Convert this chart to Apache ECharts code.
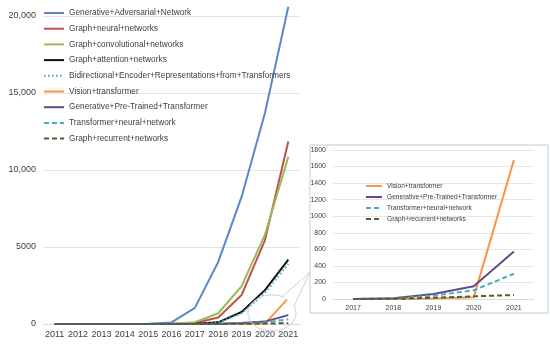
<!DOCTYPE html>
<html><head><meta charset="utf-8">
<script src="https://cdn.jsdelivr.net/npm/echarts@6/dist/echarts.min.js"></script>
<style>html,body{margin:0;padding:0;background:#fff}#c{width:550px;height:347px}</style>
</head><body><div id="c"></div>
<script>
const years = ['2011','2012','2013','2014','2015','2016','2017','2018','2019','2020','2021'];
const insetYears = ['2017','2018','2019','2020','2021'];
const mainYLabels = {0:'0',5000:'5000',10000:'10,000',15000:'15,000',20000:'20,000'};

const gan  = [0, 0, 0, 5, 20, 100, 1050, 4030, 8250, 13700, 20600];
const gnn  = [0, 0, 0, 0, 5, 15, 60, 420, 1880, 5450, 11850];
const gcn  = [0, 0, 0, 0, 5, 15, 110, 700, 2450, 5800, 10850];
const gat  = [0, 0, 0, 0, 0, 5, 15, 110, 780, 2200, 4180];
const bert = [0, 0, 0, 0, 0, 0, 5, 80, 700, 2000, 3900];
const vit  = [0, 0, 0, 0, 0, 0, 0, 0, 5, 20, 1680];
const gpt  = [0, 0, 0, 0, 0, 0, 0, 10, 60, 155, 575];
const tnn  = [0, 0, 0, 0, 0, 0, 0, 5, 40, 105, 305];
const grn  = [0, 0, 0, 0, 0, 0, 0, 2, 15, 32, 48];

const defs = [
  {name:'Generative+Adversarial+Network', data:gan, color:'#5b87c9', type:'solid', w:2},
  {name:'Graph+neural+networks', data:gnn, color:'#c0504d', type:'solid', w:2},
  {name:'Graph+convolutional+networks', data:gcn, color:'#9bbb59', type:'solid', w:2},
  {name:'Graph+attention+networks', data:gat, color:'#111111', type:'solid', w:2},
  {name:'Bidirectional+Encoder+Representations+from+Transformers', data:bert, color:'#4bacc6', type:[1.5,2.5], w:2},
  {name:'Vision+transformer', data:vit, color:'#f79646', type:'solid', w:2},
  {name:'Generative+Pre-Trained+Transformer', data:gpt, color:'#5f4b8b', type:'solid', w:2},
  {name:'Transformer+neural+network', data:tnn, color:'#4bacc6', type:[5,3], w:2},
  {name:'Graph+recurrent+networks', data:grn, color:'#4f6228', type:[5,3], w:2}
];
const insetNames = ['Vision+transformer','Generative+Pre-Trained+Transformer','Transformer+neural+network','Graph+recurrent+networks'];

const series = [];
defs.forEach(d => series.push({
  name:d.name, type:'line', xAxisIndex:0, yAxisIndex:0, data:d.data, symbol:'none', clip:false,
  lineStyle:{color:d.color, width:d.w, type:d.type}, itemStyle:{color:d.color}, z:2
}));
defs.filter(d => insetNames.includes(d.name)).forEach(d => series.push({
  name:d.name, type:'line', xAxisIndex:1, yAxisIndex:1, data:d.data.slice(6), symbol:'none',
  lineStyle:{color:d.color, width:d.w, type:d.type}, itemStyle:{color:d.color}, z:12
}));

const chart = echarts.init(document.getElementById('c'), null, {renderer:'canvas'});
chart.setOption({
  animation:false,
  backgroundColor:'#fff',
  textStyle:{fontFamily:'Liberation Sans'},
  grid:[
    {left:43, top:16, width:257, height:308},
    {left:333, top:150, width:201, height:149, z:11}
  ],
  xAxis:[
    {type:'category', gridIndex:0, data:years, boundaryGap:true,
     axisLine:{show:true, lineStyle:{color:'#d9d9d9'}}, axisTick:{show:false},
     axisLabel:{color:'#404040', fontSize:9, margin:6, interval:0, fontFamily:'Liberation Sans'}},
    {type:'category', gridIndex:1, data:insetYears, boundaryGap:true, z:11,
     axisLine:{show:true, lineStyle:{color:'#d9d9d9'}}, axisTick:{show:false},
     axisLabel:{color:'#404040', fontSize:7, margin:6, interval:0, fontFamily:'Liberation Sans'}}
  ],
  yAxis:[
    {type:'value', gridIndex:0, min:0, max:20000, interval:5000,
     axisLine:{show:false}, axisTick:{show:false},
     splitLine:{lineStyle:{color:'#e3e3e3'}},
     axisLabel:{color:'#404040', fontSize:9, margin:7, fontFamily:'Liberation Sans', formatter:v => mainYLabels[v]}},
    {type:'value', gridIndex:1, min:0, max:1800, interval:200, z:11,
     axisLine:{show:false}, axisTick:{show:false},
     splitLine:{lineStyle:{color:'#e6e6e6'}},
     axisLabel:{color:'#404040', fontSize:7, margin:7, fontFamily:'Liberation Sans', formatter:v => String(v)}}
  ],
  legend:[
    {data:defs.map(d => d.name), orient:'vertical', left:43, top:6.5, padding:0, itemWidth:20, itemHeight:10, itemGap:2.7,
     itemStyle:{opacity:0},
     textStyle:{color:'#404040', fontSize:8.3, lineHeight:13, fontFamily:'Liberation Sans'}, selectedMode:false},
    {data:insetNames, orient:'vertical', left:365, top:181.5, padding:0, itemWidth:16, itemHeight:8, itemGap:2, z:12,
     itemStyle:{opacity:0},
     textStyle:{color:'#404040', fontSize:6.6, lineHeight:9, fontFamily:'Liberation Sans'}, selectedMode:false}
  ],
  graphic:[
    {type:'ellipse', shape:{cx:272, cy:313, rx:24, ry:18}, style:{fill:'none', stroke:'#c9d1d8', lineWidth:1}, z:20},
    {type:'polyline', shape:{points:[[283,296],[310,272],[294,306]]}, style:{fill:'#fff', stroke:'#c9d1d8', lineWidth:1}, z:21},
    {type:'rect', shape:{x:310, y:145, width:238, height:168}, style:{fill:'#fff', stroke:'#b9d0da', lineWidth:1}, z:10, silent:true}
  ],
  series:series
});
</script></body></html>
